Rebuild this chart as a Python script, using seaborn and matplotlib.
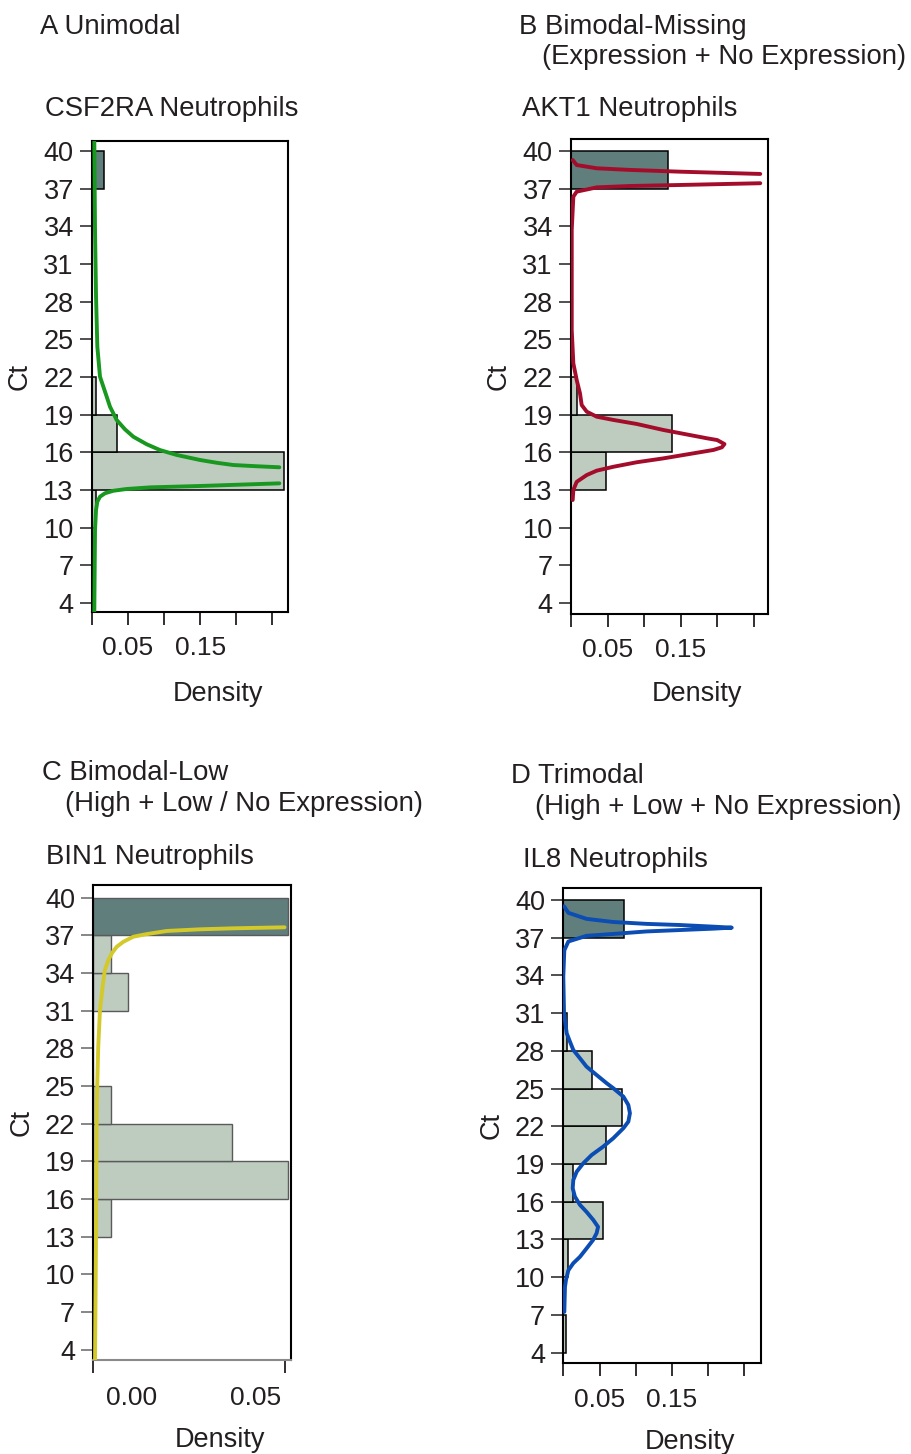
import numpy as np
import pandas as pd
import matplotlib
matplotlib.use("Agg")
import matplotlib.pyplot as plt
import seaborn as sns

sns.set_theme(style="ticks")
plt.rcParams["font.family"] = ["Liberation Sans", "DejaVu Sans"]
TXT = "#231f20"
plt.rcParams["text.color"] = TXT
plt.rcParams["axes.labelcolor"] = TXT
plt.rcParams["xtick.color"] = TXT
plt.rcParams["ytick.color"] = TXT

# ---------------- data ----------------
ct_edges = [4, 7, 10, 13, 16, 19, 22, 25, 28, 31, 34, 37, 40]
ct_ticks = [40, 37, 34, 31, 28, 25, 22, 19, 16, 13, 10, 7, 4]

# light bars: bins 4-7 ... 37-40 ; dark bar is the 37-40 "no expression" bin
A_light = [0, 0, 0.0056, 0.2667, 0.0351, 0.0060, 0, 0, 0, 0, 0, 0]
A_dark = 0.0167
B_light = [0, 0, 0, 0.0475, 0.1388, 0.0087, 0, 0, 0, 0, 0, 0]
B_dark = 0.1324
C_light = [0, 0, 0, 0.0072, 0.0791, 0.0564, 0.0072, 0, 0, 0.0142, 0.0072, 0]
C_dark = 0.0791
D_light = [0.0037, 0, 0.0069, 0.0552, 0.0130, 0.0585, 0.0806, 0.0390, 0.0047, 0, 0, 0]
D_dark = 0.0838

# density curves; segment ids split curves that leave the panel
A_curve_ct = [40.74, 33.7, 28.4, 24.42, 22.03, 20.44, 19.64, 18.58, 17.84, 17.25, 16.65,
              16.19, 15.8, 15.4, 15.18, 15.0, 14.9, 14.82,
              13.54, 13.33, 13.22, 13.09, 12.95, 12.75, 12.48, 12.08, 11.42, 9.83, 3.32]
A_curve_d = [0.0032, 0.0042, 0.0056, 0.0074, 0.0111, 0.0204, 0.025, 0.0343, 0.0458,
             0.0574, 0.076, 0.0944, 0.1176, 0.150, 0.173, 0.196, 0.229, 0.260,
             0.260, 0.150, 0.0806, 0.048, 0.0296, 0.018, 0.0111, 0.0074, 0.0056,
             0.0042, 0.0032]
A_curve_seg = [0] * 18 + [1] * 11

B_curve_ct = [39.28, 38.88, 38.62, 38.49, 38.35, 38.17,
              37.43, 37.29, 37.21, 37.1, 36.76, 36.36, 33.7, 25.74, 23.08, 21.75, 20.69,
              19.76, 19.23, 18.83, 18.57, 18.25, 17.77, 17.11, 16.97, 16.65, 16.39, 16.18,
              15.51, 15.2, 14.84, 14.53, 14.18, 13.64, 12.99, 12.19]
B_curve_d = [0.0023, 0.0078, 0.0352, 0.081, 0.149, 0.259,
             0.259, 0.149, 0.081, 0.0352, 0.0078, 0.0032, 0.001, 0.001, 0.0032, 0.0078,
             0.0123, 0.0146, 0.0215, 0.0352, 0.058, 0.090, 0.1265, 0.186, 0.200, 0.210,
             0.2065, 0.195, 0.1265, 0.090, 0.058, 0.0352, 0.0215, 0.0078, 0.0032, 0.0023]
B_curve_seg = [0] * 6 + [1] * 30

C_curve_ct = [3.17, 12.98, 23.61, 28.12, 31.05, 33.44, 34.24, 35.03, 35.57, 36.09, 36.49,
              36.89, 37.1, 37.35, 37.48, 37.56, 37.64]
C_curve_d = [0.0007, 0.0011, 0.0014, 0.0020, 0.0027, 0.0041, 0.0047, 0.0061, 0.0075,
             0.0095, 0.0122, 0.0162, 0.0217, 0.0298, 0.0433, 0.0568, 0.0775]

D_curve_ct = [39.5, 38.98, 38.5, 38.25, 38.1, 38.01, 37.88, 37.8, 37.72, 37.61, 37.5,
              37.3, 37.15, 36.7, 36.0, 33.9, 31.0, 29.4, 28.73, 28.07, 27.41, 26.75,
              26.08, 25.42, 25.03, 24.36, 23.7, 23.04, 22.37, 21.85, 21.05, 20.38, 19.72,
              19.06, 18.39, 17.73, 17.07, 16.41, 15.75, 15.2, 14.55, 14.0, 13.5, 12.95,
              12.3, 11.62, 11.11, 10.55, 9.78, 9.22, 7.24]
D_curve_d = [0.001, 0.007, 0.032, 0.069, 0.115, 0.161, 0.207, 0.2326, 0.207, 0.161, 0.115,
             0.069, 0.032, 0.007, 0.0014, 0.0, 0.001, 0.0047, 0.0092, 0.0138, 0.023, 0.032,
             0.046, 0.060, 0.069, 0.083, 0.0898, 0.092, 0.0898, 0.083, 0.069, 0.055,
             0.0392, 0.0276, 0.0185, 0.0138, 0.013, 0.016, 0.023, 0.032, 0.0414, 0.048,
             0.046, 0.041, 0.0323, 0.023, 0.0138, 0.007, 0.0037, 0.0023, 0.0014]

density_ticks = [0, 0.05, 0.10, 0.15, 0.20, 0.25]
density_labels = ["", "0.05", "", "0.15", "", ""]
C_tick_marks = [0, 0.0777]
C_label_pos = [0.0156, 0.0656]
C_labels = ["0.00", "0.05"]

title_lines = [["A Unimodal"],
               ["B Bimodal-Missing", "(Expression + No Expression)"],
               ["C Bimodal-Low", "(High + Low / No Expression)"],
               ["D Trimodal", "(High + Low + No Expression)"]]
subtitles = ["CSF2RA Neutrophils", "AKT1 Neutrophils", "BIN1 Neutrophils", "IL8 Neutrophils"]

LIGHT = "#BDCCBF"
DARK = "#5F7E7C"
curve_colors = ["#18981F", "#A30D2B", "#D4C92A", "#0B4DB3"]

# ---------------- layout ----------------
W, H = 911, 1454
fig = plt.figure(figsize=(W / 100, H / 100), dpi=100)

# axes boxes in pixels: left, top, right, bottom
boxes = [(92, 141, 288, 611.7), (571, 139.3, 768.3, 614),
         (93.3, 885, 290.7, 1360), (563.3, 888.3, 761, 1363.3)]
xlims = [(0, 0.272), (0, 0.270), (0, 0.0800), (0, 0.273)]
ylims = [(3.32, 40.8), (3.11, 40.93), (3.17, 41.01), (3.15, 40.93)]

lights = [A_light, B_light, C_light, D_light]
darks = [A_dark, B_dark, C_dark, D_dark]
curves = [(A_curve_ct, A_curve_d, A_curve_seg), (B_curve_ct, B_curve_d, B_curve_seg),
          (C_curve_ct, C_curve_d, [0] * len(C_curve_ct)),
          (D_curve_ct, D_curve_d, [0] * len(D_curve_ct))]

centers = [(a + b) / 2 for a, b in zip(ct_edges[:-1], ct_edges[1:])]

# (x, baseline) in pixels for each title line
title_pos = [[(40, 34)], [(519, 34), (542, 64)], [(42, 780), (65, 811)],
             [(511, 783), (535, 814)]]
sub_pos = [(45, 116.5), (522, 116.5), (46, 864), (523, 867)]

for i in range(4):
    l, t, r, b = boxes[i]
    ax = fig.add_axes([l / W, 1 - b / H, (r - l) / W, (b - t) / H])
    edgec = "#5a5a5a" if i == 2 else "black"
    elw = 1.0 if i == 2 else 1.1

    light_df = pd.DataFrame({"ct": centers[:-1], "w": lights[i][:-1]})
    sns.histplot(data=light_df, y="ct", weights="w", bins=ct_edges[:-1], ax=ax,
                 color=LIGHT, alpha=1, edgecolor=edgec, linewidth=elw, stat="count")
    dark_df = pd.DataFrame({"ct": [centers[-1]], "w": [darks[i]]})
    sns.histplot(data=dark_df, y="ct", weights="w", bins=ct_edges[-2:], ax=ax,
                 color=DARK, alpha=1, edgecolor=edgec, linewidth=elw, stat="count")

    cct, cd, cseg = curves[i]
    cdf = pd.DataFrame({"ct": cct, "d": cd, "seg": cseg})
    sns.lineplot(data=cdf, x="d", y="ct", units="seg", sort=False, estimator=None, ax=ax,
                 color=curve_colors[i], linewidth=2.8, zorder=5,
                 solid_capstyle="round", solid_joinstyle="round")

    ax.set_xlim(*xlims[i])
    ax.set_ylim(*ylims[i])
    ax.set_yticks(ct_ticks)
    ax.set_yticklabels([str(v) for v in ct_ticks])
    ytc = "#666666" if i == 2 else TXT
    ax.tick_params(axis="y", length=8.6, width=1.1, pad=4.5, labelsize=19.5,
                   direction="out", color=ytc, labelcolor=TXT)
    if i == 2:
        ax.set_xticks(C_tick_marks)
        ax.set_xticklabels(["", ""])
        ax.set_xticks(C_label_pos, minor=True)
        ax.set_xticklabels(C_labels, minor=True)
        ax.tick_params(axis="x", which="major", length=9, width=1.3, direction="out")
        ax.tick_params(axis="x", which="minor", length=0, pad=18.5, labelsize=19)
    else:
        ax.set_xticks(density_ticks)
        ax.set_xticklabels(density_labels)
        ax.tick_params(axis="x", length=9, width=1.3, pad=8.5, labelsize=19,
                       direction="out")

    for s in ax.spines.values():
        s.set_visible(True)
        s.set_linewidth(1.5)
        s.set_color("black")
    if i == 2:
        ax.spines["bottom"].set_color("#8a8a8a")

    ax.set_xlabel("Density", fontsize=19.5)
    ax.set_ylabel("Ct", fontsize=19.5)
    w_px = r - l
    h_px = b - t
    dens_center = [218, 697, 220, 690][i]
    dens_top = [681, 681, 1427, 1429][i]
    ax.xaxis.set_label_coords((dens_center - l) / w_px, (b - dens_top) / h_px)
    ct_right = [33, 512, 35, 505][i]
    ax.yaxis.set_label_coords((ct_right - l) / w_px, 0.5)

    for line, (tx, ty) in zip(title_lines[i], title_pos[i]):
        fig.text(tx / W, 1 - ty / H, line, fontsize=19.8, va="baseline", ha="left")
    sx, sy = sub_pos[i]
    fig.text(sx / W, 1 - sy / H, subtitles[i], fontsize=19.8, va="baseline", ha="left")

fig.savefig("out.png", dpi=100)
